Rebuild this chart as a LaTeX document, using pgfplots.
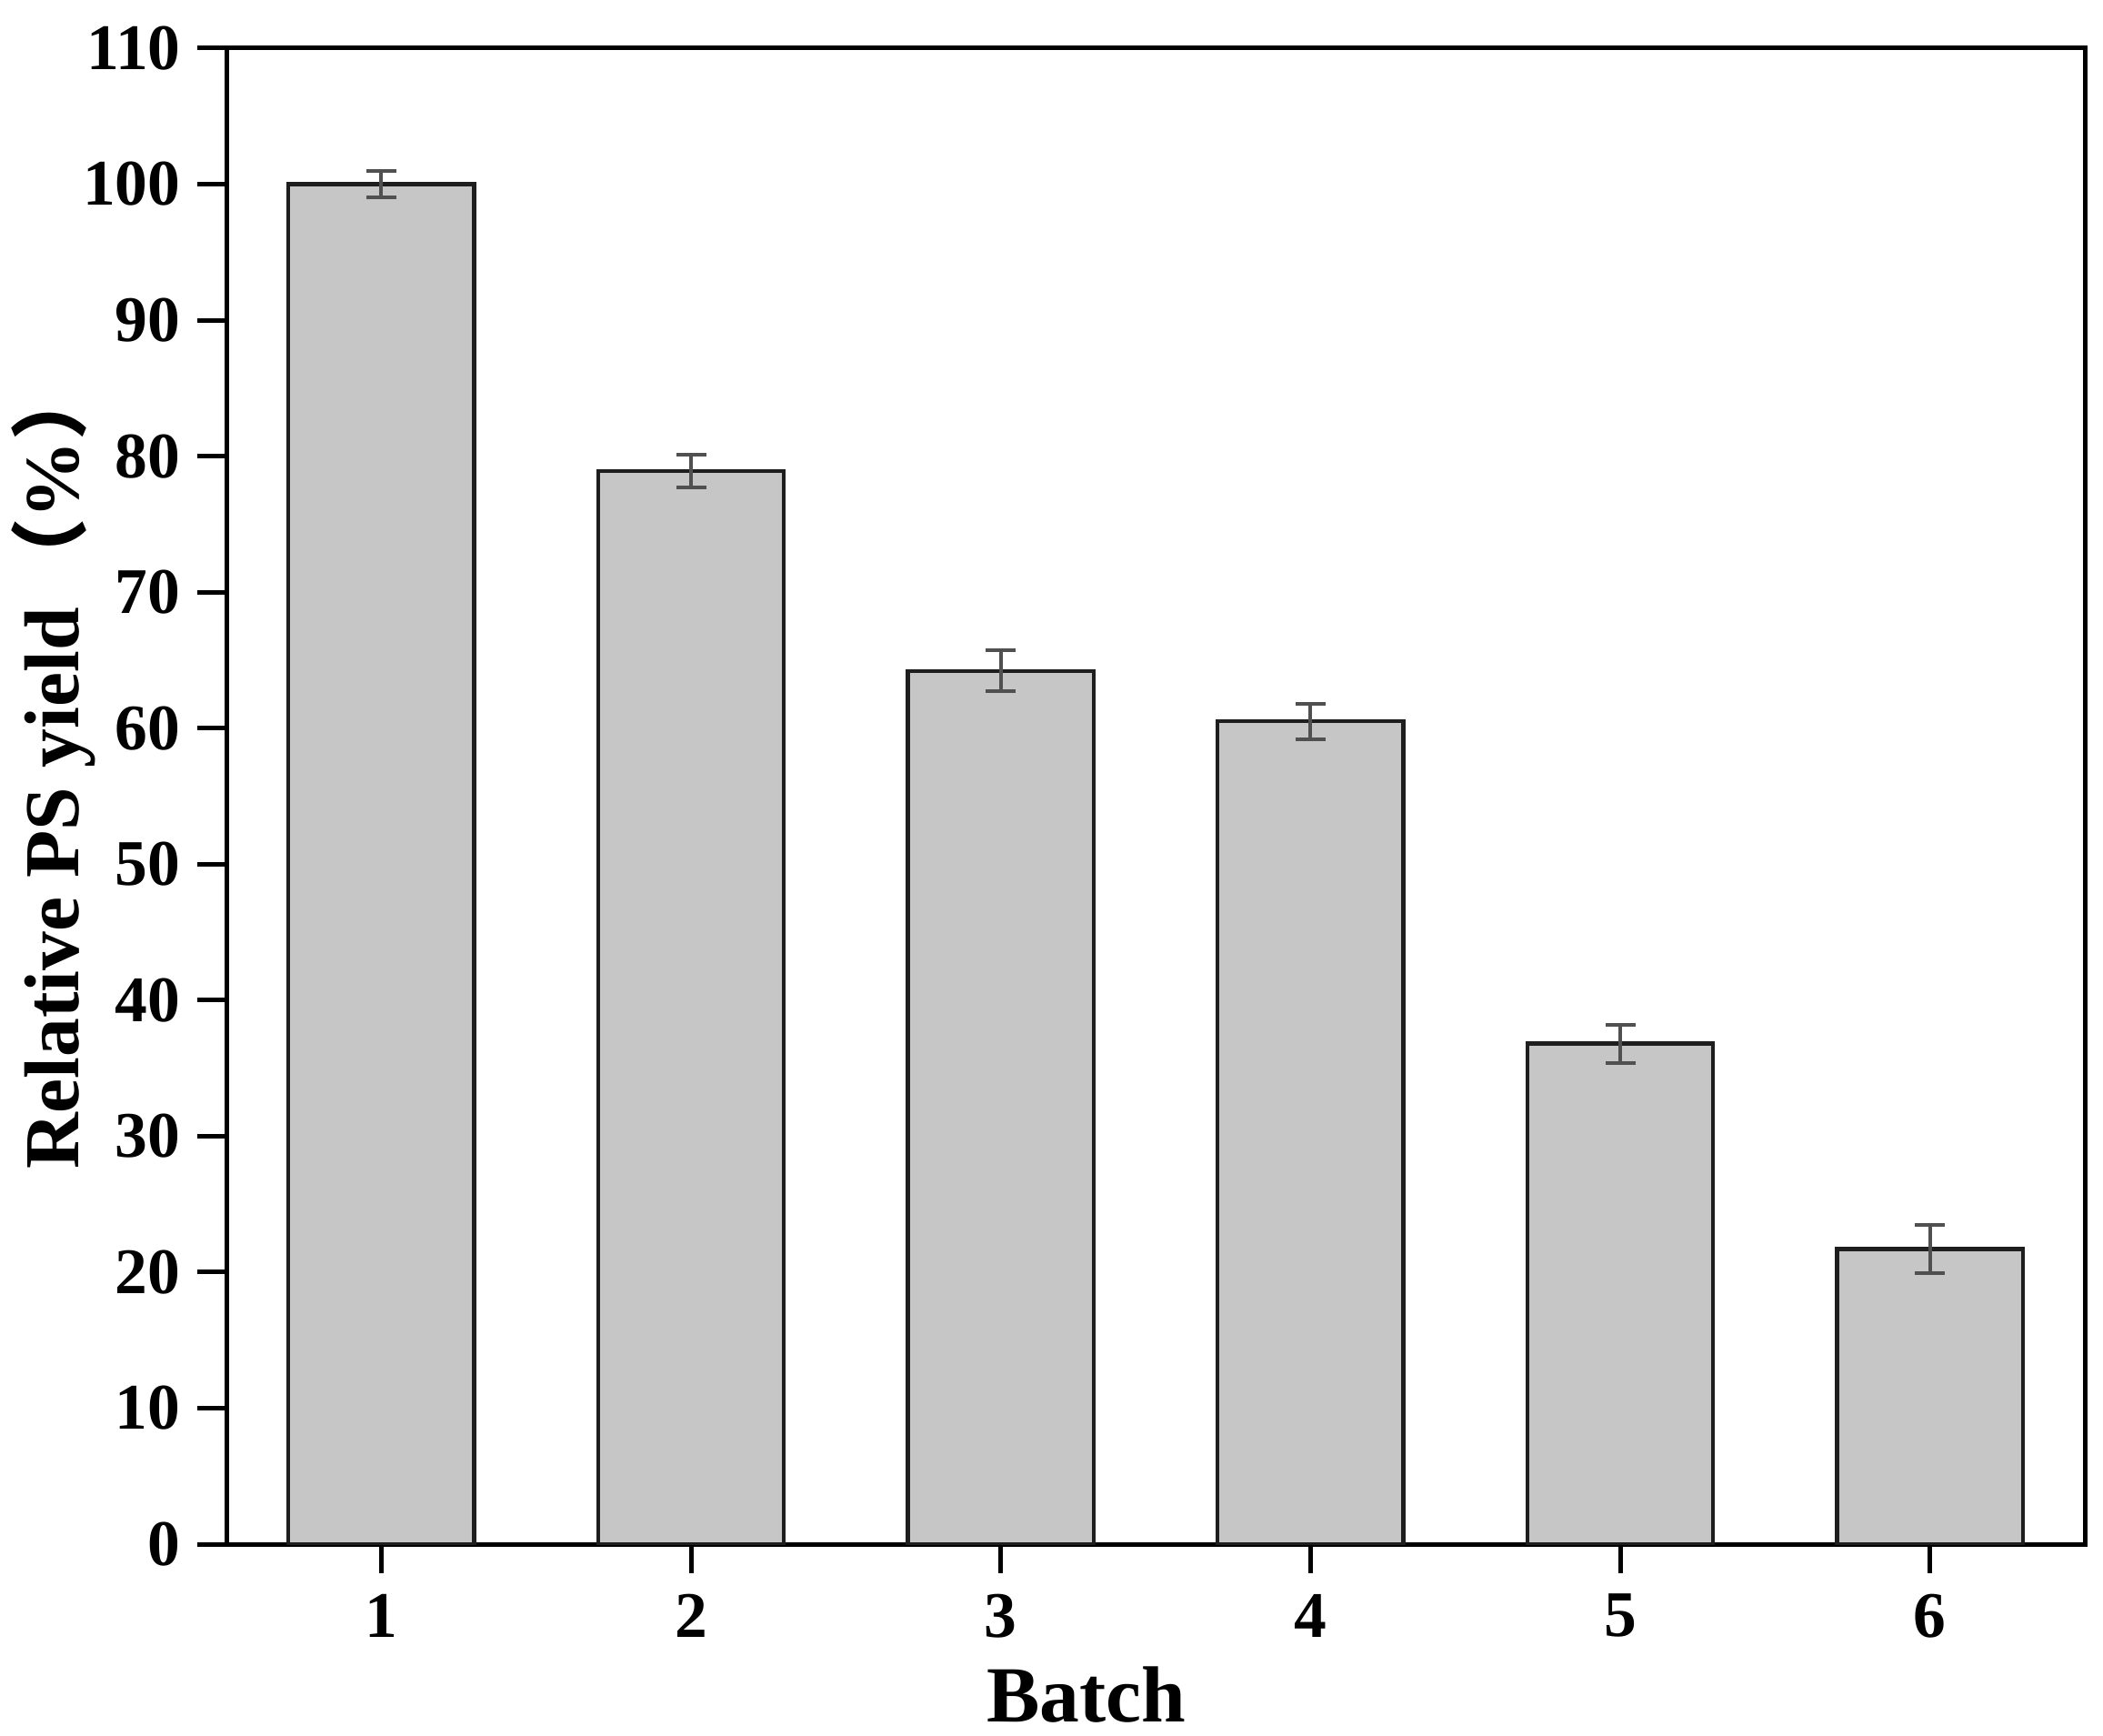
\documentclass[border=0pt]{standalone}
\usepackage{fontspec}
\setmainfont{Liberation Serif}
\newfontfamily\cjk{Noto Sans CJK SC}
\usepackage{pgfplots}
\usepackage{pgfplotstable}
\pgfplotsset{compat=1.18}
\definecolor{barfill}{RGB}{198,198,198}
\definecolor{barline}{RGB}{30,30,30}
\definecolor{errgray}{RGB}{80,80,80}
\pgfplotstableread{
x y e
1 100.0 1.0
2 78.9 1.2
3 64.2 1.5
4 60.5 1.3
5 36.8 1.4
6 21.7 1.8
}\datatable
\begin{document}
\begin{tikzpicture}
\begin{axis}[
 scale only axis, width=408.8pt, height=329pt,
 ybar, bar width=0.6,
 xmin=0.5, xmax=6.5, ymin=0, ymax=110,
 xtick={1,2,3,4,5,6}, ytick={0,10,...,110},
 xtick pos=bottom, ytick pos=left,
 tick align=outside, major tick length=6.4pt,
 minor tick num=0,
 axis line style={line width=1pt, black},
 every tick/.style={line width=1pt, black},
 ticklabel style={font=\fontsize{14.3}{14.3}\selectfont\bfseries},
 /pgf/number format/assume math mode=true,
 xticklabel style={anchor=north, inner sep=0pt, yshift=-4.4pt},
 yticklabel style={anchor=east, inner sep=0pt, xshift=-3.5pt},
 xlabel={Batch},
 ylabel={Relative PS yield\hspace{2.5pt}{\cjk （}\%{\cjk ）}},
 label style={inner sep=0pt},
 xlabel style={font=\fontsize{17.5}{17.5}\selectfont\bfseries, at={(axis description cs:0.4628,0)}, anchor=base, yshift=-39pt},
 ylabel style={font=\fontsize{17.1}{17.1}\selectfont\bfseries, at={(axis description cs:-0.0793,0.52)}, anchor=base},
]
\addplot[ybar, fill=barfill, draw=barline, line width=0.9pt,
 error bars/.cd, y dir=both, y explicit,
 error bar style={line width=0.8pt, errgray},
 error mark options={errgray, rotate=90, mark size=3.3pt, line width=0.8pt}]
 table[x=x, y=y, y error=e]{\datatable};
\coordinate (SW) at (rel axis cs:0,0);
\coordinate (NE) at (rel axis cs:1,1);
\end{axis}
\pgfresetboundingbox
\path[use as bounding box] ([shift={(-49.8pt,-42pt)}]SW) rectangle ([shift={(4pt,10.6pt)}]NE);
\end{tikzpicture}
\end{document}
